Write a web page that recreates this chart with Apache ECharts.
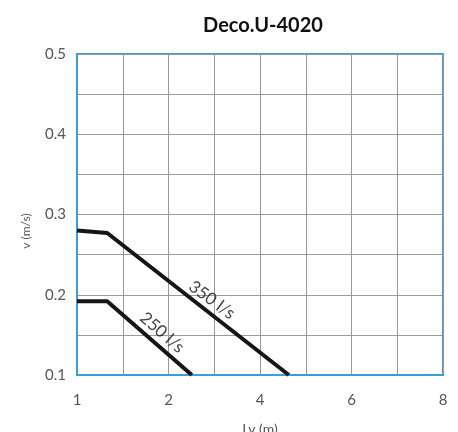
<!DOCTYPE html>
<html><head><meta charset="utf-8">
<script src="https://cdn.jsdelivr.net/npm/echarts@6/dist/echarts.min.js"></script>
<style>html,body{margin:0;padding:0;background:#fff}#c{width:458px;height:432px}</style>
</head><body><div id="c"></div>
<script>
// x positions are grid steps (0..8); tick labels shown at even steps
const xTickLabels = ['1', '', '2', '', '4', '', '6', '', '8'];
const s350 = [[0, 0.28], [0.66, 0.277], [4.63, 0.1]];
const s250 = [[0, 0.192], [0.66, 0.192], [2.51, 0.1]];
const labels = [
  {name: '350 l/s', pos: [2.95, 0.1935], rot: -36},
  {name: '250 l/s', pos: [1.86, 0.153], rot: -41}
];
const chart = echarts.init(document.getElementById('c'));
const font = 'Lato, "Open Sans", sans-serif';
chart.setOption({
  animation: false,
  title: {text: 'Deco.U-4020', left: 258, top: 11, textAlign: 'center',
    textStyle: {fontFamily: font, fontWeight: 'bold', fontSize: 20, color: '#111'}},
  grid: {left: 77, right: 15, top: 54, bottom: 57, show: true, borderColor: '#3a9fd6', borderWidth: 2,
    outerBoundsMode: 'none', containLabel: false},
  xAxis: {type: 'value', min: 0, max: 8, interval: 1,
    name: 'Lv (m)', nameLocation: 'middle', nameGap: 47,
    nameTextStyle: {fontFamily: font, fontSize: 14, color: '#555'},
    axisLine: {lineStyle: {color: '#3a9fd6', width: 2}}, axisTick: {show: false},
    axisLabel: {fontFamily: font, fontSize: 15, color: '#555', margin: 18,
      formatter: v => xTickLabels[Math.round(v)] || ''},
    splitLine: {lineStyle: {color: '#999', width: 1}}},
  yAxis: {type: 'value', min: 0.1, max: 0.5, interval: 0.05,
    name: 'v (m/s)', nameLocation: 'middle', nameGap: 45, nameRotate: 90,
    nameTextStyle: {fontFamily: font, fontSize: 12, color: '#555', padding: [0, 0, 0, -33]},
    axisLine: {lineStyle: {color: '#3a9fd6', width: 2}}, axisTick: {show: false},
    axisLabel: {fontFamily: font, fontSize: 15, color: '#555', margin: 11,
      formatter: v => { const r = Math.round(v * 100); return r % 10 === 0 ? (r / 100).toFixed(1) : ''; }},
    splitLine: {lineStyle: {color: '#999', width: 1}}},
  series: [
    {type: 'line', data: s350, symbol: 'none', lineStyle: {color: '#151515', width: 4}},
    {type: 'line', data: s250, symbol: 'none', lineStyle: {color: '#151515', width: 4}},
    {type: 'scatter', symbolSize: 0, silent: true,
      data: labels.map(l => ({value: l.pos, name: l.name,
        label: {show: true, position: 'inside', rotate: l.rot, formatter: l.name,
          fontFamily: font, fontSize: 17, color: '#111'}}))}
  ]
});
</script></body></html>
